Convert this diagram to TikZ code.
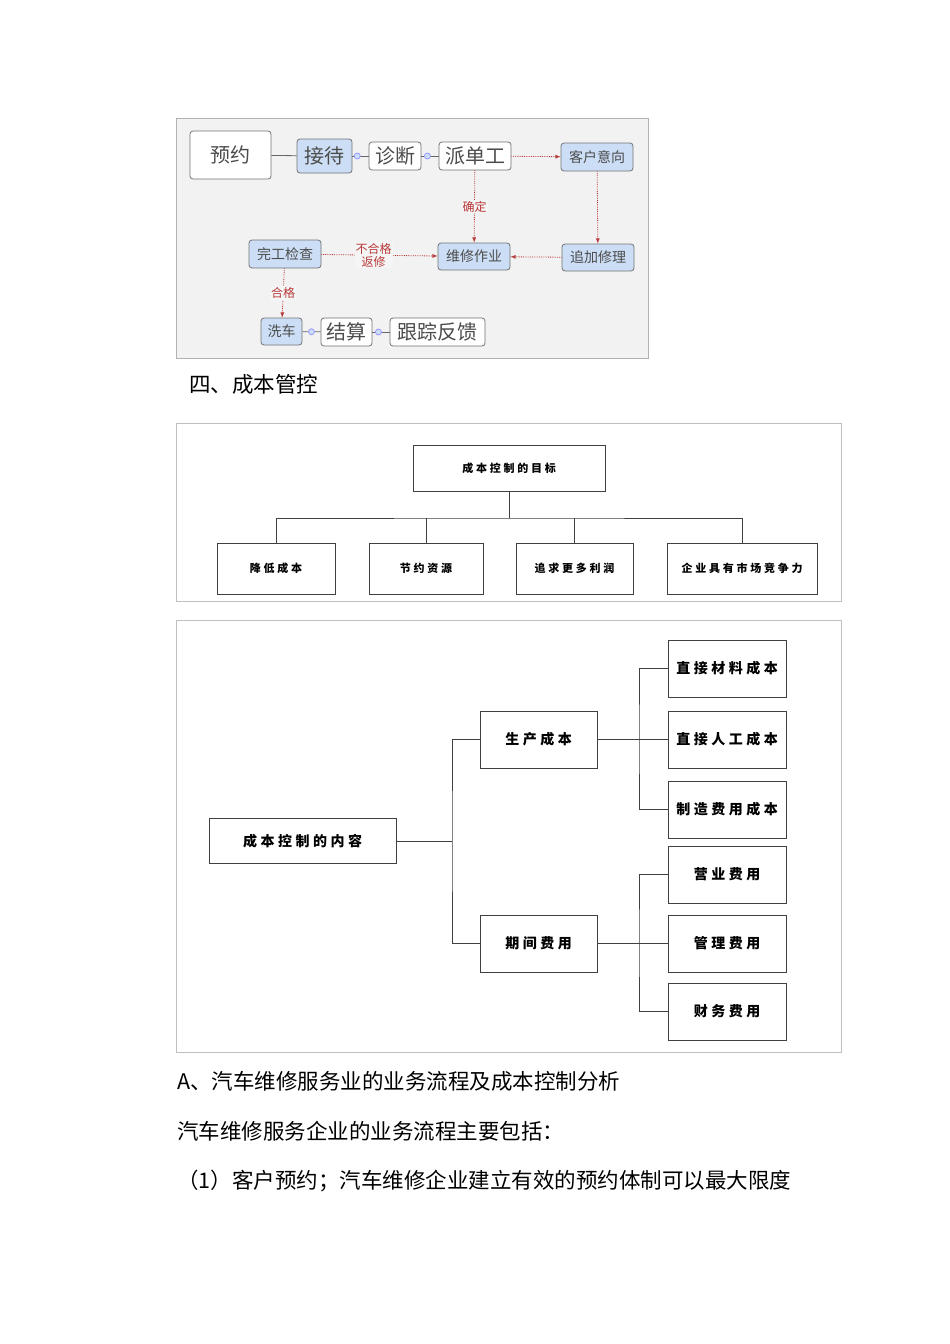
\documentclass[tikz,border=0pt]{standalone}
\usepackage{fontspec}
\setmainfont{Noto Sans CJK SC}
\newfontfamily\spaced[LetterSpace=25]{Noto Sans CJK SC}
\definecolor{lb}{rgb}{0.80,0.87,0.96}
\definecolor{rd}{rgb}{0.72,0.22,0.22}
\begin{document}
\begin{tikzpicture}[x=1pt,y=-1pt,
 fl/.style={draw=black!55,rounded corners=3pt,line width=0.8pt,inner sep=0pt,text=black!70},
 blu/.style={fl,fill=lb},
 wht/.style={fl,fill=white},
 big/.style={font=\fontsize{20}{22}\selectfont},
 sml/.style={font=\fontsize{14}{16}\selectfont},
 red/.style={draw=rd,densely dotted,line width=0.8pt,-latex},
 rl/.style={text=rd,font=\fontsize{12}{13}\selectfont,fill=black!4,inner sep=1pt},
 bx/.style={draw=black!75,line width=0.9pt,fill=white,font=\spaced\fontsize{14}{16}\selectfont\bfseries},
 bs/.style={bx,font=\spaced\fontsize{11}{12}\selectfont\bfseries},
 ln/.style={draw=black!75,line width=1pt},
 dot/.style={circle,draw=blue!40,fill=lb,minimum size=6pt,inner sep=0pt},
 body/.style={anchor=west,font=\fontsize{21.5}{23}\selectfont,inner sep=0pt}]
\useasboundingbox (0,0) rectangle (950,1344);
\fill[white] (0,0) rectangle (950,1344);
% flowchart 1
\draw[black!30,fill=black!5] (176,118) rectangle (648,358);
\node[wht,big,minimum width=81pt,minimum height=48pt] (yy) at (230.5,155) {预约};
\node[blu,big,minimum width=55pt,minimum height=34pt] (jd) at (324.5,156) {接待};
\node[wht,big,minimum width=52pt,minimum height=28pt] (zd) at (395,156) {诊断};
\node[wht,big,minimum width=72pt,minimum height=28pt] (pd) at (475,156) {派单工};
\node[blu,sml,minimum width=72pt,minimum height=28pt] (kh) at (597,157) {客户意向};
\node[blu,sml,minimum width=72pt,minimum height=27pt] (wx) at (474,256.5) {维修作业};
\node[blu,sml,minimum width=72pt,minimum height=27pt] (zj) at (598,257.5) {追加修理};
\node[blu,sml,minimum width=72pt,minimum height=28pt] (wg) at (285,254) {完工检查};
\node[blu,sml,minimum width=41pt,minimum height=27pt] (xc) at (281.5,331.5) {洗车};
\node[wht,big,minimum width=51pt,minimum height=28pt] (js) at (346.5,332) {结算};
\node[wht,big,minimum width=95pt,minimum height=28pt] (gz) at (437.5,332) {跟踪反馈};
\draw[black!60,line width=0.8pt] (yy) -- (jd);
\draw[black!60,line width=0.8pt] (jd) -- (zd) node[dot,pos=0.3]{};
\draw[black!60,line width=0.8pt] (zd) -- (pd) node[dot,pos=0.35]{};
\draw[black!60,line width=0.8pt] (xc) -- (js) node[dot,midway]{};
\draw[black!60,line width=0.8pt] (js) -- (gz) node[dot,pos=0.35]{};
\draw[red] (pd) -- (kh);
\draw[red] (kh) -- (zj);
\draw[red] (zj) -- (wx);
\draw[red] (pd) -- node[rl]{确定} (wx);
\draw[red] (wg) -- node[rl,align=center,pos=0.45]{不合格\\返修} (wx);
\draw[red] (wg) -- node[rl]{合格} (xc);
% heading
\node[body] (h4) at (189,384) {四、成本管控};
% chart 2
\draw[black!25] (176,423) rectangle (841,601);
\node[bs,minimum width=192pt,minimum height=46pt] (t) at (509,468) {成本控制的目标};
\node[bs,minimum width=118pt,minimum height=51pt] (b1) at (276,568.5) {降低成本};
\node[bs,minimum width=114pt,minimum height=51pt] (b2) at (426,568.5) {节约资源};
\node[bs,minimum width=117pt,minimum height=51pt] (b3) at (574.5,568.5) {追求更多利润};
\node[bs,minimum width=150pt,minimum height=51pt] (b4) at (742,568.5) {企业具有市场竞争力};
\coordinate (bus) at (509,518);
\draw[ln] (t) -- (bus);
\draw[ln] (b1.north) |- (bus) -| (b4.north);
\draw[ln] (b2.north) -- (b2.north |- bus);
\draw[ln] (b3.north) -- (b3.north |- bus);
% chart 3
\draw[black!25] (176,620) rectangle (841,1052);
\node[bx,minimum width=187pt,minimum height=45pt] (r) at (302.5,841) {成本控制的内容};
\node[bx,minimum width=117pt,minimum height=57pt] (m1) at (538.5,739.5) {生产成本};
\node[bx,minimum width=117pt,minimum height=57pt] (m2) at (538.5,943.5) {期间费用};
\node[bx,minimum width=118pt,minimum height=57pt] (c1) at (727,668.5) {直接材料成本};
\node[bx,minimum width=118pt,minimum height=57pt] (c2) at (727,739.5) {直接人工成本};
\node[bx,minimum width=118pt,minimum height=57pt] (c3) at (727,809.5) {制造费用成本};
\node[bx,minimum width=118pt,minimum height=57pt] (c4) at (727,874.5) {营业费用};
\node[bx,minimum width=118pt,minimum height=57pt] (c5) at (727,943.5) {管理费用};
\node[bx,minimum width=118pt,minimum height=57pt] (c6) at (727,1011.5) {财务费用};
\coordinate (j0) at (452,841);
\coordinate (j1) at (639,739.5);
\coordinate (j2) at (639,943.5);
\draw[ln] (r) -- (j0);
\draw[ln] (m1.west) -| (j0) |- (m2.west);
\draw[ln] (m1) -- (c2);
\draw[ln] (c1.west) -| (j1) |- (c3.west);
\draw[ln] (m2) -- (c5);
\draw[ln] (c4.west) -| (j2) |- (c6.west);
% body text
\node[body] (ta) at (177,1081) {A、汽车维修服务业的业务流程及成本控制分析};
\node[body] (tb) at (177,1131) {汽车维修服务企业的业务流程主要包括：};
\node[body] (tc) at (177,1181) {（1）客户预约；汽车维修企业建立有效的预约体制可以最大限度};
\end{tikzpicture}
\end{document}
